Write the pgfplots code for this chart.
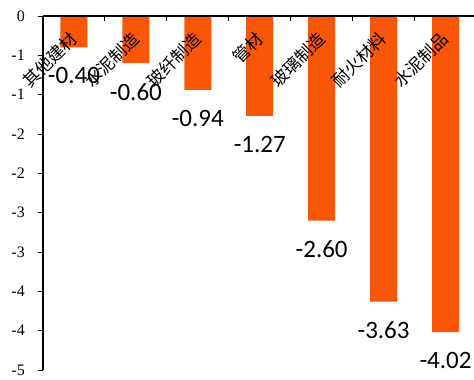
\documentclass[border=0pt]{standalone}
\usepackage{pgfplots}
\pgfplotsset{compat=1.18}
\usepackage{fontspec}
\setmainfont{Liberation Serif}
\newfontfamily\carlito{Carlito}
\newfontfamily\cjk{Noto Sans CJK SC}
\definecolor{barorange}{RGB}{250,86,8}

\begin{document}
\begin{tikzpicture}[x=1pt,y=1pt]
\begin{axis}[
  at={(43pt,-16pt)}, anchor=north west,
  scale only axis, width=431pt, height=354pt,
  xmin=0.5, xmax=7.46, ymin=-4.5, ymax=0,
  clip=false, axis on top,
  axis x line*=top, axis y line*=left,
  axis line style={-, black, line width=1.1pt},
  tick style={black, line width=0.9pt},
  major tick length=5pt,
  % boundary ticks between categories
  xtick={1.5,2.5,3.5,4.5,5.5,6.5}, xticklabels={},
  xtick align=inside,
  % category names
  extra x ticks={1,2,3,4,5,6,7},
  extra x tick labels={其他建材,水泥制造,玻纤制造,管材,玻璃制造,耐火材料,水泥制品},
  extra x tick style={major tick length=0pt},
  xticklabel shift=-20pt,
  xticklabel style={font=\cjk\fontsize{17}{17}\selectfont, rotate=45, anchor=east, inner sep=0pt},
  ytick={0,-0.5,-1,-1.5,-2,-2.5,-3,-3.5,-4,-4.5},
  yticklabels={0,-1,-1,-2,-2,-3,-3,-4,-4,-5},
  ytick align=outside,
  yticklabel shift=13pt,
  yticklabel style={font=\fontsize{16}{16}\selectfont, anchor=east, inner sep=0pt},
]
\addplot[ybar, bar width=27pt, fill=barorange, draw=none,
  nodes near coords={\pgfmathprintnumber[fixed,fixed zerofill,precision=2,assume math mode=true]{\pgfplotspointmeta}},
  every node near coord/.append style={font=\carlito\fontsize{25}{25}\selectfont, anchor=center, yshift=-28.5pt, text=black}]
coordinates {(1,-0.40) (2,-0.60) (3,-0.94) (4,-1.27) (5,-2.60) (6,-3.63) (7,-4.02)};
\end{axis}
\pgfresetboundingbox
\path[use as bounding box] (0,0) rectangle (474,-380);
\end{tikzpicture}
\end{document}
